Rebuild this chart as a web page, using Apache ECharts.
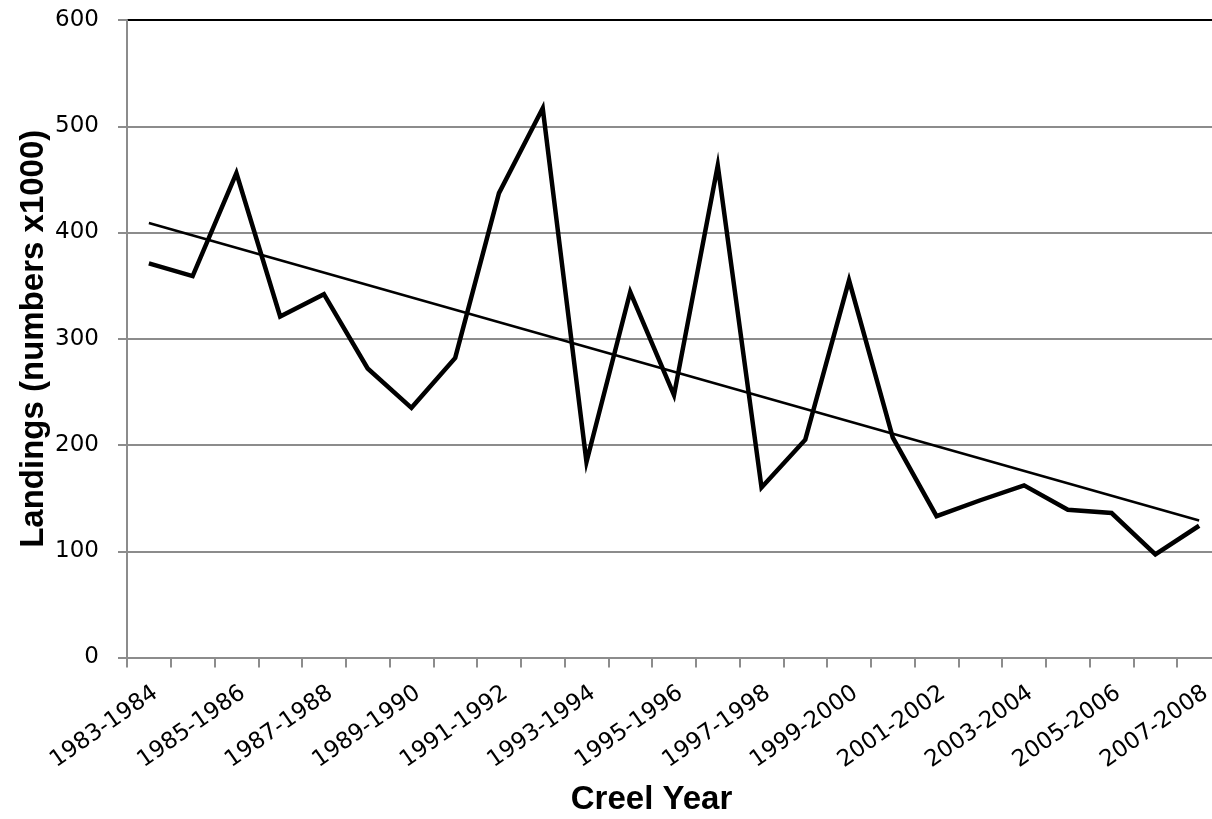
<!DOCTYPE html>
<html><head><meta charset="utf-8">
<script src="https://cdn.jsdelivr.net/npm/echarts@6/dist/echarts.min.js"></script>
<style>html,body{margin:0;padding:0;background:#fff}#c{width:1212px;height:819px}</style>
</head><body><div id="c"></div>
<script>
const categories = ['1983-1984','1984-1985','1985-1986','1986-1987','1987-1988','1988-1989','1989-1990','1990-1991','1991-1992','1992-1993','1993-1994','1994-1995','1995-1996','1996-1997','1997-1998','1998-1999','1999-2000','2000-2001','2001-2002','2002-2003','2003-2004','2004-2005','2005-2006','2006-2007','2007-2008'];
const landings = [371, 359, 456, 321, 342, 272, 235, 282, 437, 517, 184, 344, 247, 463, 160, 205, 355, 207, 133, 148, 162, 139, 136, 97, 124];
const trendStartEnd = [409, 129];
const yMin = 0, yMax = 600, yStep = 100;
const xTitle = 'Creel Year';
const yTitle = 'Landings (numbers x1000)';

const trendData = categories.map((c, i) => i === 0 ? trendStartEnd[0] : (i === categories.length - 1 ? trendStartEnd[1] : null));
const gridGray = '#8c8c8c';

const chart = echarts.init(document.getElementById('c'), null, {renderer: 'canvas'});
chart.setOption({
  backgroundColor: '#ffffff',
  animation: false,
  grid: {left: 127, right: -9, top: 20, bottom: 161.5, containLabel: false, outerBoundsMode: 'none'},
  xAxis: {
    type: 'category',
    data: categories,
    boundaryGap: true,
    name: xTitle,
    nameLocation: 'middle',
    nameGap: 126,
    nameMoveOverlap: false,
    nameTextStyle: {fontFamily: 'Liberation Sans', fontWeight: 'bold', fontSize: 33, color: '#000', padding: [0, 45, 0, 0], verticalAlign: 'top'},
    axisLine: {show: true, lineStyle: {color: gridGray, width: 2}},
    axisTick: {show: true, interval: 0, length: 10, lineStyle: {color: gridGray, width: 2}},
    axisLabel: {interval: 1, rotate: 35, margin: 24, verticalAlign: 'top', fontFamily: 'DejaVu Sans', fontSize: 23, color: '#000'},
    splitLine: {show: false}
  },
  yAxis: {
    type: 'value',
    min: yMin, max: yMax, interval: yStep,
    name: yTitle,
    nameLocation: 'middle',
    nameGap: 77,
    nameMoveOverlap: false,
    nameTextStyle: {fontFamily: 'Liberation Sans', fontWeight: 'bold', fontSize: 33, color: '#000'},
    axisLine: {show: true, lineStyle: {color: gridGray, width: 2}},
    axisTick: {show: true, length: 9, lineStyle: {color: gridGray, width: 2}},
    axisLabel: {margin: 28, fontFamily: 'DejaVu Sans', fontSize: 23, color: '#000'},
    splitLine: {show: true, lineStyle: {color: [gridGray, gridGray, gridGray, gridGray, gridGray, gridGray, '#000000'], width: 2}}
  },
  series: [
    {
      type: 'line', data: landings, symbol: 'none', smooth: false,
      lineStyle: {color: '#000', width: 4.5, join: 'miter'}, z: 3
    },
    {
      type: 'line', data: trendData, symbol: 'none', connectNulls: true,
      lineStyle: {color: '#000', width: 2.5}, z: 2
    }
  ]
});
</script>
</body></html>
